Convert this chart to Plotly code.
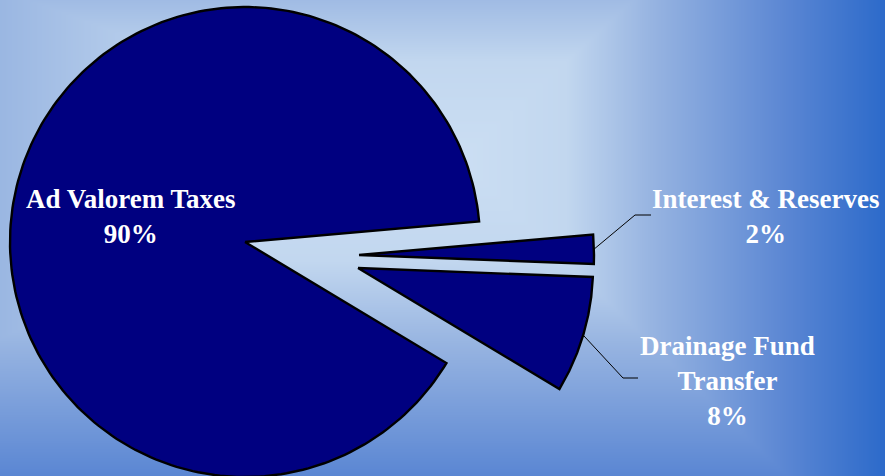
import numpy as np
import plotly.graph_objects as go

# Revenue sources and their shares (%)
categories = ["Ad Valorem Taxes", "Interest & Reserves", "Drainage Fund Transfer"]
shares = [90, 2, 8]
label_lines = [["Ad Valorem Taxes"], ["Interest & Reserves"], ["Drainage Fund", "Transfer"]]

# Canvas (pixel-like axis units, y grows downward)
W, H = 885, 476
CX, CY, R = 245, 242, 235          # pie centre and radius
START_DEG = 5.0                    # angle where the first small slice begins
# explode offsets (dx, dy) for each slice
offsets = [(0, 0), (114, 13), (113, 26)]
# label anchor positions and leader-line elbows
label_pos = [(131, 216), (765, 216), (727, 381)]
leaders = [None, [(635, 215), (651, 215)], [(623, 378), (638, 378)]]

SLICE_COLOR = "#000080"
FONT = "Liberation Serif, Times New Roman, serif"

fig = go.Figure()

# --- background: rectangular "path" gradient, light centre fading to blue edges
gx = np.linspace(0, W, 260)
gy = np.linspace(0, H, 160)
XX, YY = np.meshgrid(gx, gy)
fx, fy = 459.0, 158.0              # focus of the gradient
left, right, top, bottom = -595.0, 885.0, -229.0, 571.0
tx = np.where(XX >= fx, (XX - fx) / (right - fx), (fx - XX) / (fx - left))
ty = np.where(YY >= fy, (YY - fy) / (bottom - fy), (fy - YY) / (fy - top))
tz = np.maximum(tx, ty)
fig.add_trace(go.Heatmap(
    x=gx, y=gy, z=tz, zmin=0, zmax=1, zsmooth="best", showscale=False,
    hoverinfo="skip",
    colorscale=[[0.0, "#cbdef3"], [0.25, "#c2d7ef"], [0.45, "#97b4e1"],
                [0.77, "#5a86d3"], [1.0, "#2c6aca"]],
))

# --- pie slices, clockwise from START_DEG
total = float(sum(shares))
order = [1, 2, 0]                  # small slices first (clockwise), then the big one
angle = START_DEG
spans = {}
for i in order:
    sweep = 360.0 * shares[i] / total
    spans[i] = (angle, angle - sweep)
    angle -= sweep

for i, name in enumerate(categories):
    a0, a1 = spans[i]
    th = np.radians(np.linspace(a0, a1, 240))
    dx, dy = offsets[i]
    cx, cy = CX + dx, CY + dy
    xs = np.concatenate([[cx], cx + R * np.cos(th), [cx]])
    ys = np.concatenate([[cy], cy - R * np.sin(th), [cy]])
    fig.add_trace(go.Scatter(
        x=xs, y=ys, mode="lines", fill="toself", fillcolor=SLICE_COLOR,
        line=dict(color="black", width=2.4), name=name, hoverinfo="name",
    ))
    if leaders[i] is not None:
        mid = np.radians((a0 + a1) / 2)
        px, py = cx + R * np.cos(mid), cy - R * np.sin(mid)
        lx = [px] + [p[0] for p in leaders[i]]
        ly = [py] + [p[1] for p in leaders[i]]
        fig.add_trace(go.Scatter(x=lx, y=ly, mode="lines",
                                 line=dict(color="black", width=1), hoverinfo="skip"))

# --- labels
for i in range(len(categories)):
    text = "<br>".join(label_lines[i] + [f"{shares[i]}%"])
    fig.add_annotation(
        x=label_pos[i][0], y=label_pos[i][1], xref="x", yref="y",
        text=f"<b>{text}</b>", showarrow=False, align="center",
        xanchor="center", yanchor="middle",
        font=dict(family=FONT, size=27, color="white"),
    )

fig.update_layout(
    width=W, height=H, margin=dict(l=0, r=0, t=0, b=0),
    showlegend=False, paper_bgcolor="#2c6aca", plot_bgcolor="#2c6aca",
    xaxis=dict(range=[0, W], visible=False, fixedrange=True),
    yaxis=dict(range=[H, 0], visible=False, fixedrange=True),
)

fig.write_html("out.html")
